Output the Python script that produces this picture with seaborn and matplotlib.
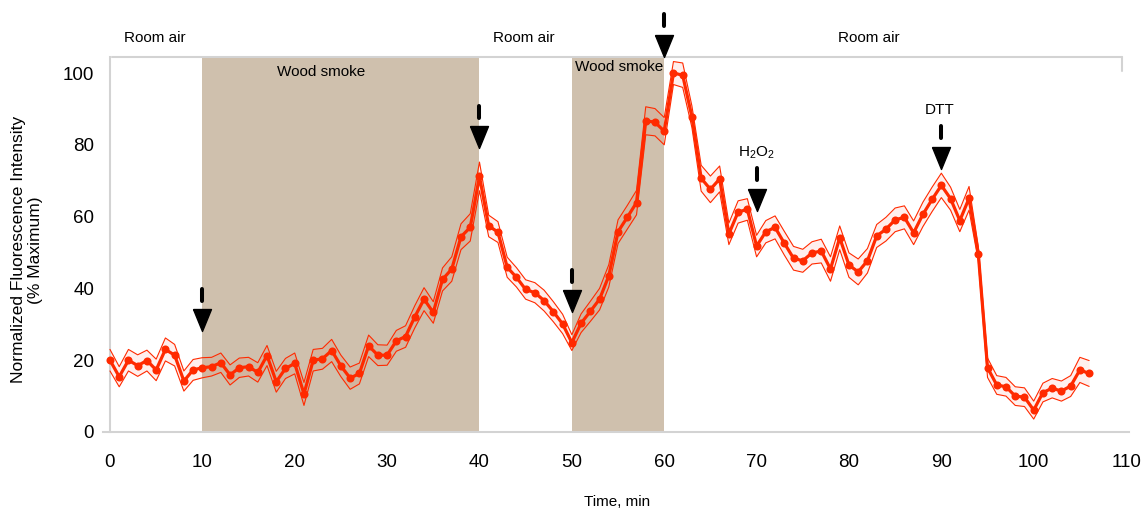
import numpy as np
import pandas as pd
import matplotlib
matplotlib.use("Agg")
import matplotlib.pyplot as plt
from matplotlib.markers import MarkerStyle
from matplotlib.transforms import offset_copy
import seaborn as sns

# time points (min) and normalized fluorescence (% max), mean and half-width of band
time = list(range(0, 107))
mean = [20.0, 15.4, 20.0, 18.5, 19.9, 17.3, 23.0, 21.4, 14.2, 17.3,
        17.9, 18.2, 19.3, 15.9, 17.9, 18.2, 16.6, 21.3, 14.0, 17.7,
        19.1, 10.6, 20.0, 20.4, 22.7, 18.4, 15.0, 16.3, 24.0, 21.4,
        21.4, 25.4, 26.6, 32.1, 37.0, 33.3, 42.5, 45.4, 54.4, 57.0,
        71.2, 57.4, 55.7, 45.9, 43.1, 39.7, 38.8, 36.6, 33.5, 30.1,
        24.9, 30.3, 33.6, 37.0, 43.5, 55.8, 59.8, 63.9, 86.7, 86.3,
        83.8, 100.0, 99.4, 87.8, 70.7, 67.6, 70.5, 55.2, 61.3, 62.0,
        51.8, 55.8, 57.0, 52.6, 48.4, 47.7, 49.9, 50.4, 45.4, 54.1,
        46.5, 44.6, 47.7, 54.6, 56.5, 59.1, 59.8, 55.5, 60.6, 64.8,
        68.7, 65.0, 58.9, 65.1, 49.7, 17.9, 13.1, 12.6, 10.0, 9.7,
        6.1, 11.0, 12.2, 11.4, 12.8, 17.3, 16.3]
sem = [3.0, 2.8, 3.0, 3.0, 2.9, 3.0, 3.2, 3.0, 2.8, 2.9,
       2.8, 2.6, 2.7, 2.8, 2.7, 2.6, 2.7, 2.8, 2.9, 2.8,
       2.9, 3.2, 3.0, 2.9, 3.1, 3.0, 3.1, 2.9, 3.0, 2.9,
       2.8, 2.9, 3.0, 3.1, 3.2, 3.0, 3.2, 3.4, 3.6, 3.8,
       4.0, 3.0, 2.9, 2.8, 2.7, 2.7, 2.8, 2.9, 2.8, 2.7,
       2.2, 2.6, 2.8, 3.0, 3.1, 3.3, 3.3, 3.4, 3.9, 3.8,
       3.8, 3.2, 3.4, 3.0, 3.6, 3.7, 3.6, 3.0, 3.1, 3.0,
       3.0, 3.1, 3.2, 3.3, 3.3, 3.2, 3.1, 3.3, 3.4, 3.3,
       3.4, 3.6, 3.4, 3.2, 3.3, 3.3, 3.2, 3.3, 3.4, 3.4,
       3.4, 3.2, 3.1, 3.3, 2.0, 2.7, 2.6, 2.6, 2.6, 2.6,
       2.5, 2.6, 2.7, 2.8, 2.9, 3.5, 3.6]

# exposure periods
smoke_periods = [(10, 40), (50, 60)]
period_labels = ["Room air", "Wood smoke", "Room air", "Wood smoke", "Room air"]
period_label_x = [4.9, 22.9, 44.8, 55.1, 82.2]
period_label_y = [109.7, 100.3, 109.7, 101.7, 109.7]

# arrows marking events
arrow_time = [10, 40, 50, 60, 70, 90]
arrow_tip = [28.1, 79.1, 33.4, 104.5, 61.6, 73.3]
event_labels = ["H$_2$O$_2$", "DTT"]
event_x = [70, 89.8]
event_y = [77.7, 89.7]

RED = "#ff2a00"
TAN = "#cfc0ad"
GRAY = "#d3d3d3"
TOP_Y = 104.5

sns.set_style("white")
plt.rcParams["font.family"] = ["Liberation Sans", "DejaVu Sans"]
plt.rcParams["mathtext.default"] = "regular"
plt.rcParams["text.color"] = "black"

df = pd.DataFrame({"time": time, "mean": mean, "sem": sem})
df["lo"] = df["mean"] - df["sem"]
df["hi"] = df["mean"] + df["sem"]

fig = plt.figure(figsize=(11.45, 5.12), dpi=100)
ax = fig.add_axes([0.0896, 0.15625, 0.8963, 0.8273])
ax.set_xlim(-0.8, 110.3)
ax.set_ylim(0, 118)

# shaded smoke periods
for a, b in smoke_periods:
    ax.axvspan(a, b, ymin=0, ymax=TOP_Y / 118, color=TAN, lw=0, zorder=0)

# bracket along the top
ax.plot([0.2, 109.6], [TOP_Y, TOP_Y], color=GRAY, lw=1.5, clip_on=False, zorder=1)
ax.plot([109.6, 109.6], [TOP_Y, 100.6], color=GRAY, lw=1.5, clip_on=False, zorder=1)

# band + mean line
ax.fill_between(df["time"], df["lo"], df["hi"], color=RED, alpha=0.07, lw=0, zorder=2)
sns.lineplot(data=df, x="time", y="hi", color=RED, lw=0.8, ax=ax, zorder=3)
sns.lineplot(data=df, x="time", y="lo", color=RED, lw=0.8, ax=ax, zorder=3)
sns.lineplot(data=df, x="time", y="mean", color=RED, lw=2.3, marker="o",
             markersize=5.8, markeredgewidth=0, ax=ax, zorder=4)

# arrows
tri = [(-9, 11), (9, 11), (0, -11), (-9, 11)]
tri_tf = offset_copy(ax.transData, fig=fig, x=0, y=11, units="dots")
bar_tf = offset_copy(ax.transData, fig=fig, x=0, y=36.5, units="dots")
ax.plot(arrow_time, arrow_tip, ls="none", marker=tri, markersize=15.8,
        color="black", transform=tri_tf, clip_on=False, zorder=6)
ax.plot(arrow_time, arrow_tip, ls="none", marker=MarkerStyle("|", capstyle="round"),
        markersize=9.0, markeredgewidth=2.9, color="black", transform=bar_tf,
        clip_on=False, zorder=6)

for lab, x, y in zip(period_labels, period_label_x, period_label_y):
    ax.text(x, y, lab, ha="center", va="center", fontsize=11, color="black")
for lab, x, y in zip(event_labels, event_x, event_y):
    ax.text(x, y, lab, ha="center", va="center", fontsize=11, color="black")

# axes styling
for s in ["top", "right"]:
    ax.spines[s].set_visible(False)
ax.spines["left"].set_position(("data", 0))
ax.spines["left"].set_bounds(0, TOP_Y)
for s in ["left", "bottom"]:
    ax.spines[s].set_color(GRAY)
    ax.spines[s].set_linewidth(1.5)
ax.set_xticks(range(0, 111, 10))
ax.set_yticks(range(0, 101, 20))
ax.tick_params(axis="both", length=7.5, width=1.5, color=GRAY, labelsize=13.5,
               labelcolor="black", direction="out")
ax.tick_params(axis="x", pad=8)
ax.tick_params(axis="y", pad=4)
ax.set_xlabel("")
ax.set_ylabel("")

fig.text(0.0236, 0.512, "Normalized Fluorescence Intensity\n(% Maximum)",
         rotation=90, ha="center", va="center", multialignment="center",
         fontsize=12.5, color="black")
fig.text(0.539, 0.0195, "Time, min", ha="center", va="center", fontsize=11,
         color="black")

fig.savefig("out.png", dpi=100)
